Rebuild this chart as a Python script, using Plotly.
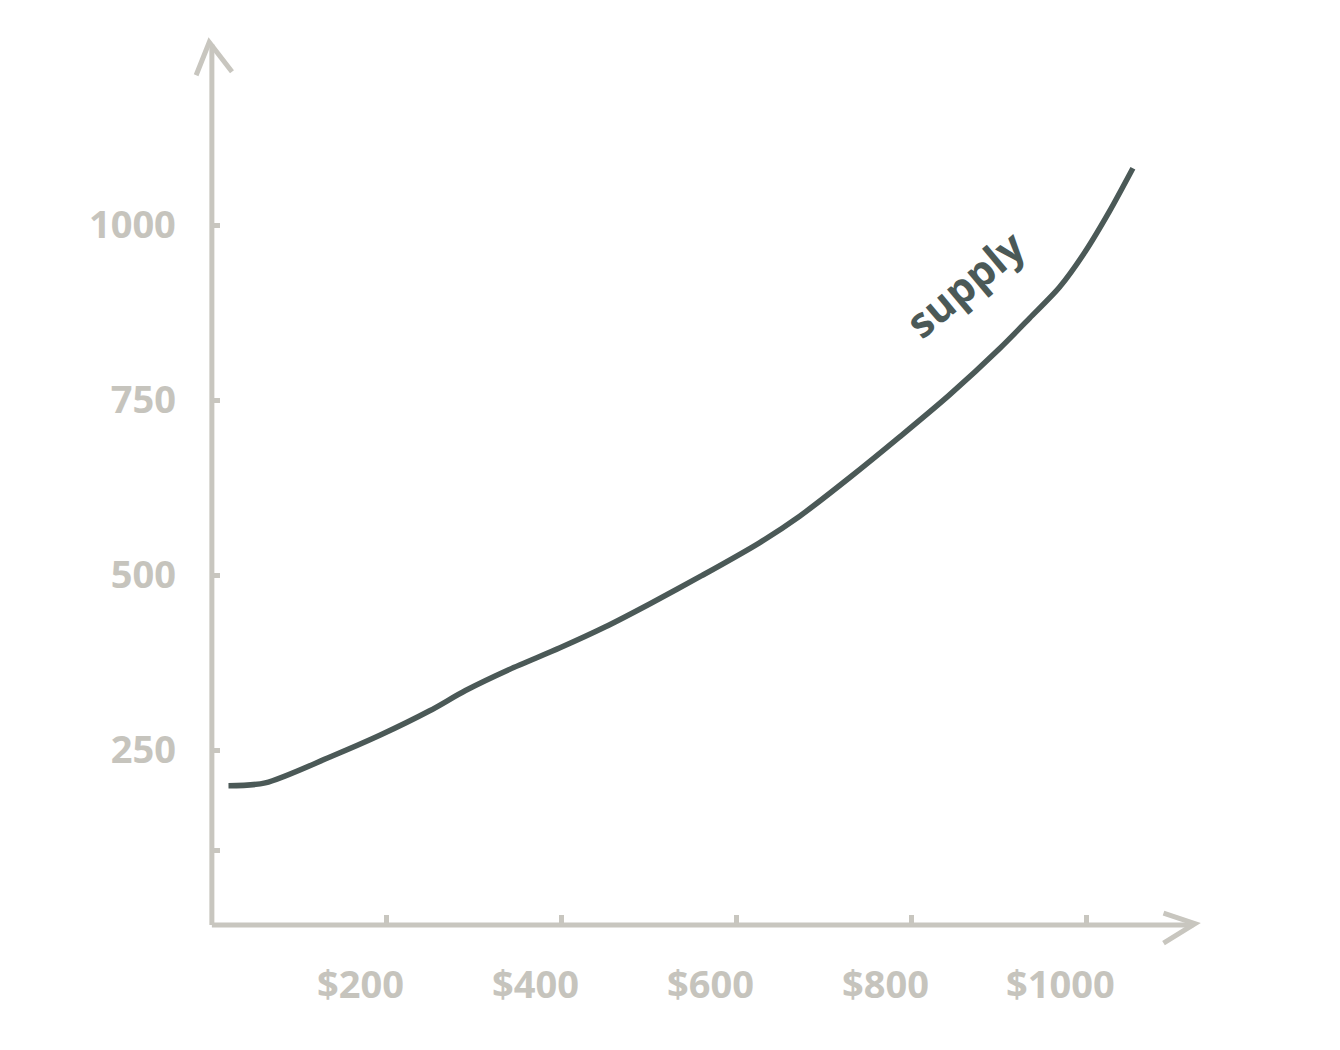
import plotly.graph_objects as go

# Data
price = [19, 61, 135, 192, 249, 290, 340, 398, 450, 501, 560, 626, 672, 730, 786, 843, 901, 935, 969, 998, 1026, 1053]
quantity = [199, 203, 240, 271, 306, 335, 365, 396, 426, 459, 499, 546, 584, 640, 697, 757, 824, 867, 911, 961, 1019, 1081]

x_tickvals = [200, 400, 600, 800, 1000]
x_ticktext = ["$200", "$400", "$600", "$800", "$1000"]
y_tickvals = [107, 250, 500, 750, 1000]
y_ticktext = ["", "250", "500", "750", "1000"]

AXIS = "#c8c6bf"
LABEL = "#c6c4bd"
CURVE = "#4b5957"
FONT = "Open Sans"

X_RANGE = [-25, 1140]
Y_RANGE = [-30, 1270]

fig = go.Figure()
fig.add_trace(go.Scatter(
    x=price, y=quantity, mode="lines",
    line=dict(color=CURVE, width=5.5, shape="spline", smoothing=0.8),
    hoverinfo="skip", showlegend=False,
))

# axis lines and open arrowheads (decoration)
fig.add_shape(type="line", x0=0, y0=0, x1=1122, y1=0, xref="x", yref="y",
              line=dict(color=AXIS, width=5), layer="below")
fig.add_shape(type="line", x0=0, y0=0, x1=0, y1=1258, xref="x", yref="y",
              line=dict(color=AXIS, width=5), layer="below")
fig.add_shape(type="path", path="M 1088,17 L 1124,2 L 1088,-26", xref="x", yref="y",
              line=dict(color=AXIS, width=5))
fig.add_shape(type="path", path="M -18,1214 L -3,1261 L 23,1219", xref="x", yref="y",
              line=dict(color=AXIS, width=5))

# x tick labels (hand-placed slightly left of the tick)
for v, t in zip(x_tickvals, x_ticktext):
    fig.add_annotation(x=v, y=0, xref="x", yref="y", text=t, showarrow=False,
                       xshift=-26, yshift=-58, yanchor="middle",
                       font=dict(family=FONT, size=38, color=LABEL, weight="bold"))

fig.add_annotation(x=860, y=917, xref="x", yref="y", text="supply", showarrow=False,
                   textangle=-40, font=dict(family=FONT, size=42, color=CURVE, weight="bold"))

fig.update_layout(
    width=1340, height=1050,
    margin=dict(l=182, r=138.5, t=28, b=112, pad=0),
    paper_bgcolor="white", plot_bgcolor="white",
    xaxis=dict(range=X_RANGE, tickvals=x_tickvals, ticktext=x_ticktext,
               showticklabels=False, automargin=False,
               anchor="free", position=30 / 1300,
               showgrid=False, zeroline=False, showline=False,
               ticks="inside", ticklen=10, tickwidth=5, tickcolor=AXIS),
    yaxis=dict(range=Y_RANGE, tickvals=y_tickvals, ticktext=y_ticktext,
               automargin=False, anchor="free", position=25 / 1165,
               showgrid=False, zeroline=False, showline=False,
               ticks="inside", ticklen=7, tickwidth=5, tickcolor=AXIS,
               ticklabelstandoff=36,
               tickfont=dict(family=FONT, size=38, color=LABEL, weight="bold")),
)

fig.write_html("out.html")
